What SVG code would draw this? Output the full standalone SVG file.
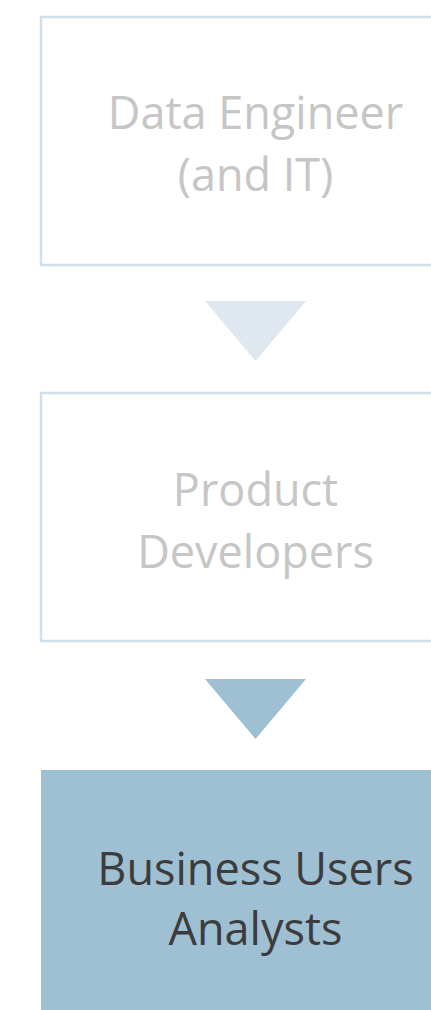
<svg xmlns="http://www.w3.org/2000/svg" width="431" height="1010" viewBox="0 0 431 1010">
<style>
.box{fill:#ffffff;stroke:#cfe0ea;stroke-width:2.5}
.boxa{fill:#9fbfd3}
.t{font-family:"Open Sans","Noto Sans",sans-serif;font-size:45px;text-anchor:middle}
.lt{fill:#c6c6c6}
.dk{fill:#3c3c3c}
</style>
<rect width="431" height="1010" fill="#ffffff"/>
<g id="connectors">
<polygon points="205,301 306,301 255.5,361" fill="#dfe8f0"/>
<polygon points="205,679 306,679 255.5,739" fill="#9fbfd3"/>
</g>
<g id="node-data-engineer">
<rect class="box" x="41" y="17" width="430" height="248"/>
<text class="t lt" x="255.5" y="128.5">Data Engineer</text>
<text class="t lt" x="255.5" y="190.5">(and IT)</text>
</g>
<g id="node-product-developers">
<rect class="box" x="41" y="393" width="430" height="248"/>
<text class="t lt" x="255.5" y="505.5">Product</text>
<text class="t lt" x="255.5" y="567.5">Developers</text>
</g>
<g id="node-business-users">
<rect class="boxa" x="41" y="770" width="430" height="260"/>
<text class="t dk" x="255.5" y="885">Business Users</text>
<text class="t dk" x="255.5" y="945">Analysts</text>
</g>
</svg>
